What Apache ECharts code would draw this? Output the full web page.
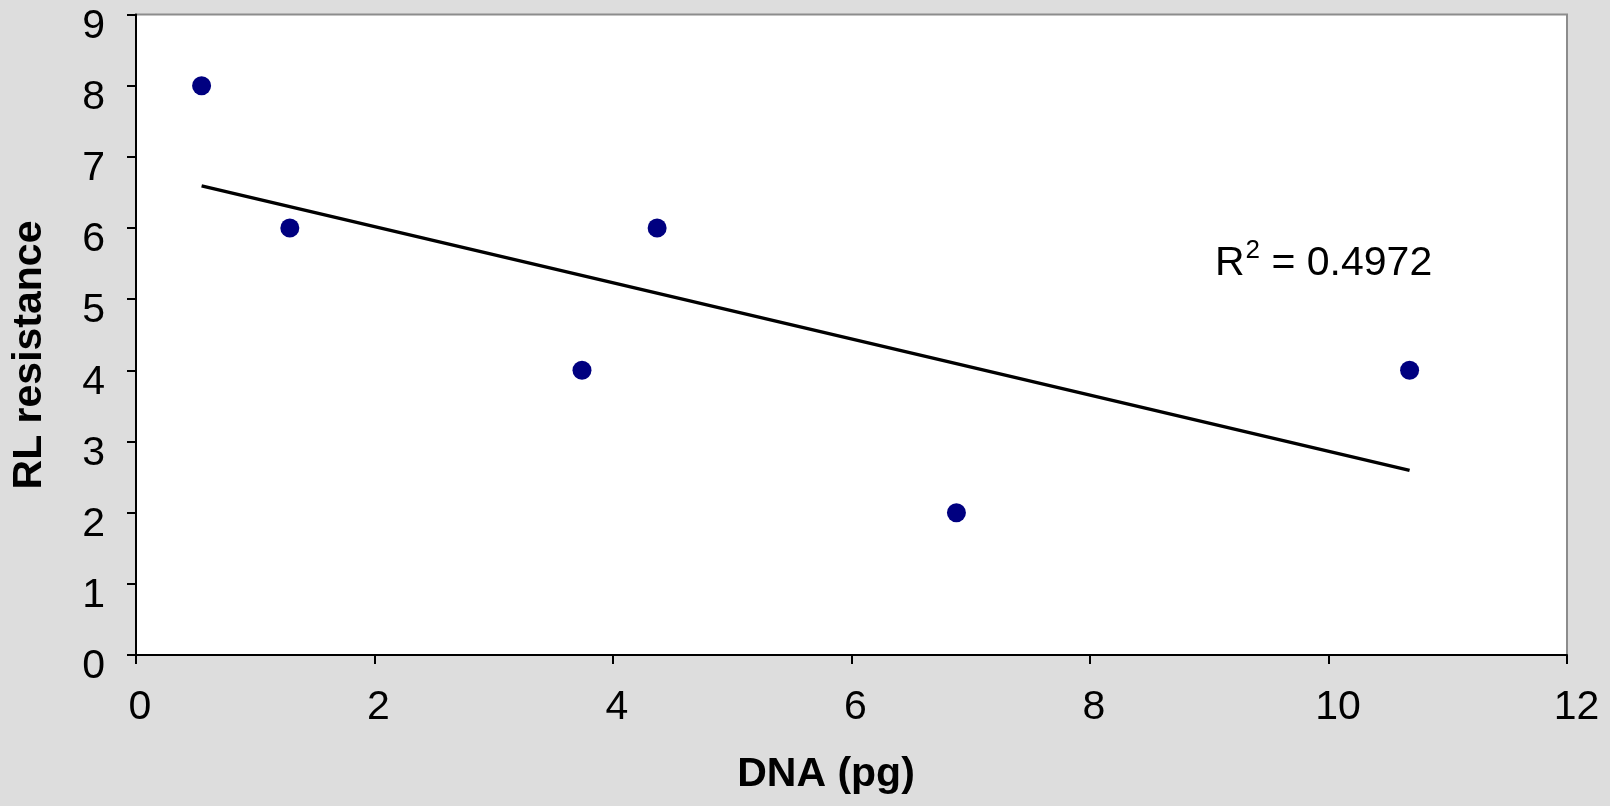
<!DOCTYPE html>
<html>
<head>
<meta charset="utf-8">
<script src="https://cdn.jsdelivr.net/npm/echarts@6/dist/echarts.min.js"></script>
<style>
html,body{margin:0;padding:0;background:#dddddd;}
#chart{width:1610px;height:806px;}
</style>
</head>
<body>
<div id="chart"></div>
<script>
// Data
const dnaPg = [0.55, 1.29, 3.74, 4.37, 6.88, 10.68];
const rlResistance = [8, 6, 4, 6, 2, 4];
const xTitle = 'DNA (pg)';
const yTitle = 'RL resistance';
const r2Label = '0.4972';

// Linear least-squares trendline from the data
const n = dnaPg.length;
const mx = dnaPg.reduce((a, b) => a + b, 0) / n;
const my = rlResistance.reduce((a, b) => a + b, 0) / n;
let sxy = 0, sxx = 0;
for (let i = 0; i < n; i++) { sxy += (dnaPg[i] - mx) * (rlResistance[i] - my); sxx += (dnaPg[i] - mx) ** 2; }
const slope = sxy / sxx, intercept = my - slope * mx;
const xMin = Math.min(...dnaPg), xMax = Math.max(...dnaPg);
const trend = [[xMin, intercept + slope * xMin], [xMax, intercept + slope * xMax]];

const font = 'Liberation Sans, Arial, sans-serif';
const chart = echarts.init(document.getElementById('chart'));
chart.setOption({
  backgroundColor: '#dddddd',
  animation: false,
  grid: { left: 136, right: 43, top: 14.5, bottom: 151, containLabel: false, outerBoundsMode: 'none',
          show: true, backgroundColor: '#ffffff', borderColor: '#8c8c8c', borderWidth: 2 },
  xAxis: {
    type: 'value', min: 0, max: 12, interval: 2,
    axisLine: { show: true, onZero: false, lineStyle: { color: '#000', width: 2 } },
    axisTick: { show: true, length: 9, lineStyle: { color: '#000', width: 2 } },
    axisLabel: {
      fontFamily: font, fontSize: 41, color: '#000', margin: 32,
      formatter: v => (v >= 10 ? '{b|' + v + '}' : '{a|' + v + '}'),
      rich: {
        a: { fontFamily: font, fontSize: 41, color: '#000', padding: [0, 0, 0, 8] },
        b: { fontFamily: font, fontSize: 41, color: '#000', padding: [0, 0, 0, 19] }
      }
    },
    splitLine: { show: false }
  },
  yAxis: {
    type: 'value', min: 0, max: 9, interval: 1,
    axisLine: { show: true, onZero: false, lineStyle: { color: '#000', width: 2 } },
    axisTick: { show: true, length: 9, lineStyle: { color: '#000', width: 2 } },
    axisLabel: { fontFamily: font, fontSize: 41, color: '#000', margin: 31, verticalAlign: 'top', lineHeight: 24 },
    splitLine: { show: false }
  },
  series: [
    {
      type: 'line', data: trend, showSymbol: false, symbol: 'none',
      lineStyle: { color: '#000', width: 3.5 }, z: 2, silent: true
    },
    {
      type: 'scatter', data: dnaPg.map((x, i) => [x, rlResistance[i]]),
      symbol: 'circle', symbolSize: 19, itemStyle: { color: '#000080', opacity: 1 }, z: 3
    }
  ],
  graphic: [
    { type: 'text', x: 826, y: 775, style: { text: xTitle, fontFamily: font, fontSize: 41, fontWeight: 'bold', fill: '#000', textAlign: 'center', textVerticalAlign: 'middle' } },
    { type: 'text', x: 30, y: 355, rotation: Math.PI / 2, style: { text: yTitle, fontFamily: font, fontSize: 41, fontWeight: 'bold', fill: '#000', textAlign: 'center', textVerticalAlign: 'middle' } },
    { type: 'text', x: 1215, y: 284, style: {
        text: '{r|R}{s|2}{r| = ' + r2Label + '}',
        textAlign: 'left', textVerticalAlign: 'bottom',
        rich: {
          r: { fontFamily: font, fontSize: 41, fill: '#000', lineHeight: 46, verticalAlign: 'bottom' },
          s: { fontFamily: font, fontSize: 26, fill: '#000', lineHeight: 46, verticalAlign: 'top', padding: [0, 0, 14, 1] }
        }
      } }
  ]
});
</script>
</body>
</html>
